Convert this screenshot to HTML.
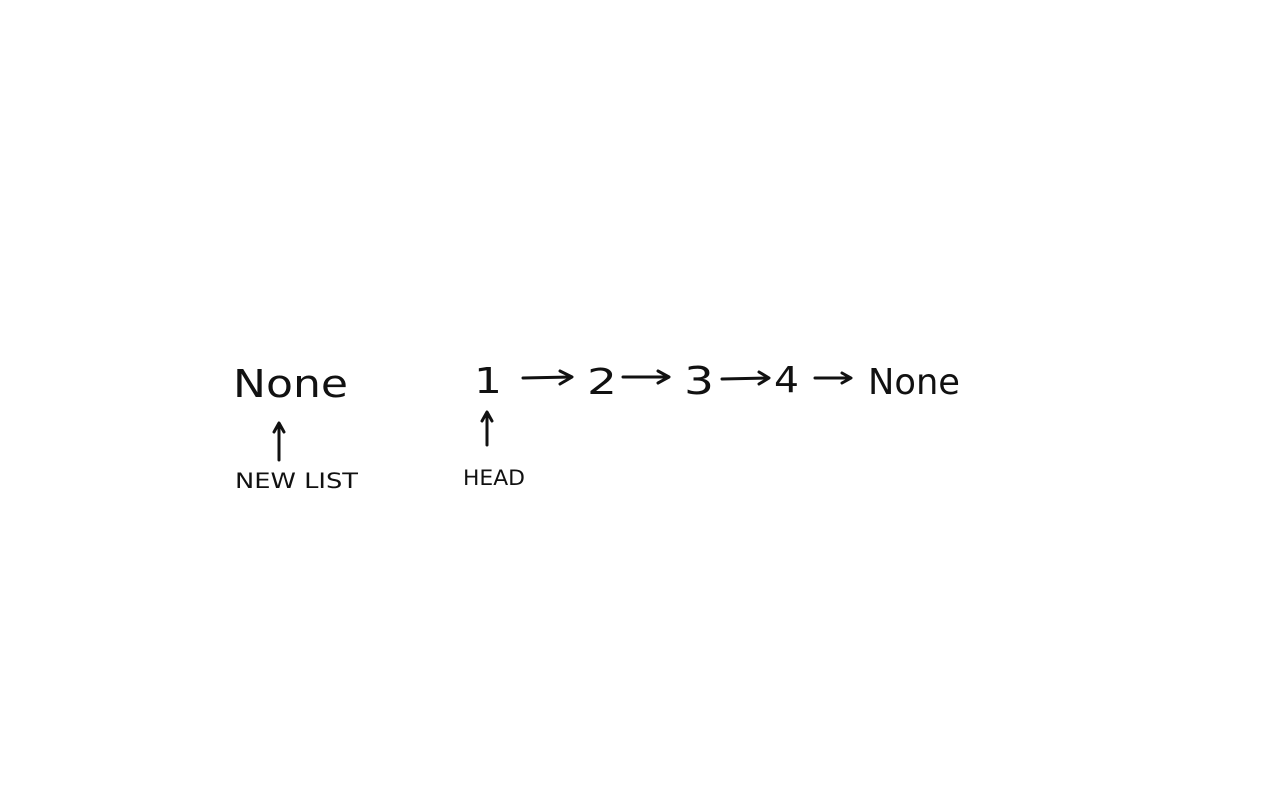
<!DOCTYPE html>
<html><head><meta charset="utf-8"><style>
html,body{margin:0;padding:0;background:#fff;width:1280px;height:808px;overflow:hidden}
svg{display:block}
text{font-family:"DejaVu Sans","Liberation Sans",sans-serif;fill:#111}
</style></head><body>
<svg width="1280" height="808" viewBox="0 0 1280 808">
<g stroke="#111" stroke-width="3" fill="none" stroke-linecap="round" stroke-linejoin="round">
  <g><path d="M523 378 L571 377"/><path d="M560 371 L572 377 L560 384"/></g>
  <g><path d="M623 377 L668 377"/><path d="M658 371 L669 377 L658 383"/></g>
  <g><path d="M722 379 L768 378"/><path d="M759 372 L769 378 L759 384"/></g>
  <g><path d="M815 378 L850 378"/><path d="M842 373 L851 378 L842 383"/></g>
  <g><path d="M279 460 L279 424"/><path d="M274 432 L279 423 L284 432"/></g>
  <g><path d="M487 445 L487 413"/><path d="M482 421 L487 412 L492 421"/></g>
</g>
<text x="233" y="397" font-size="38" textLength="115" lengthAdjust="spacingAndGlyphs">None</text>
<text x="474" y="393" font-size="36" textLength="28" lengthAdjust="spacingAndGlyphs">1</text>
<text x="587" y="394" font-size="36" textLength="30" lengthAdjust="spacingAndGlyphs">2</text>
<text x="684" y="394" font-size="38" textLength="30" lengthAdjust="spacingAndGlyphs">3</text>
<text x="774" y="392" font-size="36" textLength="25" lengthAdjust="spacingAndGlyphs">4</text>
<text x="868" y="394" font-size="36" textLength="92" lengthAdjust="spacingAndGlyphs">None</text>
<text x="235" y="488" font-size="21" textLength="123" lengthAdjust="spacingAndGlyphs">NEW LIST</text>
<text x="463" y="485" font-size="21" textLength="62" lengthAdjust="spacingAndGlyphs">HEAD</text>
</svg>
</body></html>
